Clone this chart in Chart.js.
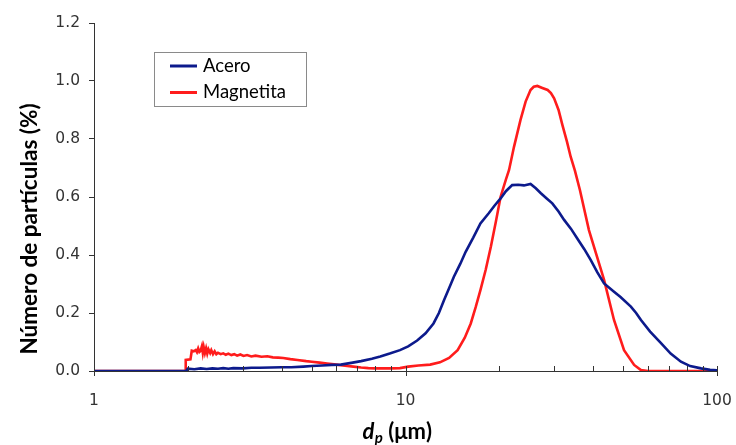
<!DOCTYPE html>
<html><head><meta charset="utf-8">
<script src="https://cdn.jsdelivr.net/npm/chart.js@4.4.0/dist/chart.umd.min.js"></script>
<style>html,body{margin:0;padding:0;background:#fff;}#c{display:block;}</style>
</head><body>
<canvas id="c" width="736" height="445"></canvas>
<script>
// ---- data ----
const seriesNames = ['Acero', 'Magnetita'];
const aceroX = [1, 1.98, 2.0, 2.1, 2.2, 2.3, 2.4, 2.5, 2.6, 2.7, 2.8, 3.0, 3.2, 3.4, 3.7, 4.0, 4.3, 4.7, 5.0, 5.4, 5.8, 6.2, 6.7, 7.2, 7.8, 8.3, 8.9, 9.6, 10.2, 10.9, 11.6, 12.3, 12.8, 13.3, 13.8, 14.3, 15.0, 15.6, 16.5, 17.4, 18.5, 19.3, 20.2, 21.0, 22.0, 23.0, 24.0, 25.2, 26.2, 27.2, 28.4, 29.6, 31.0, 32.3, 34.0, 35.6, 37.5, 39.3, 41.3, 43.4, 46.5, 49.0, 52.9, 55.0, 57.0, 61.0, 66.1, 71.0, 76.6, 82.0, 88.9, 95.0, 100];
const aceroY = [0, 0, 0.008, 0.006, 0.009, 0.007, 0.009, 0.008, 0.010, 0.008, 0.010, 0.009, 0.011, 0.011, 0.012, 0.013, 0.013, 0.015, 0.017, 0.019, 0.021, 0.022, 0.028, 0.034, 0.042, 0.050, 0.060, 0.072, 0.085, 0.105, 0.130, 0.164, 0.200, 0.245, 0.285, 0.325, 0.370, 0.411, 0.460, 0.509, 0.544, 0.570, 0.595, 0.620, 0.641, 0.642, 0.640, 0.645, 0.630, 0.613, 0.595, 0.578, 0.550, 0.521, 0.490, 0.457, 0.420, 0.383, 0.340, 0.302, 0.275, 0.255, 0.222, 0.200, 0.176, 0.136, 0.096, 0.060, 0.032, 0.017, 0.009, 0.004, 0.002];
const magX = [1, 1.96, 1.97, 2.04, 2.06, 2.09, 2.12, 2.14, 2.16, 2.18, 2.2, 2.22, 2.235, 2.25, 2.27, 2.29, 2.31, 2.33, 2.36, 2.38, 2.41, 2.44, 2.47, 2.5, 2.55, 2.6, 2.65, 2.7, 2.76, 2.82, 2.88, 2.95, 3.02, 3.1, 3.2, 3.3, 3.45, 3.6, 3.75, 3.9, 4.05, 4.27, 4.5, 4.8, 5.0, 5.3, 5.6, 6.0, 6.4, 6.8, 7.2, 7.6, 8.0, 8.5, 9.0, 9.6, 10.2, 11.0, 12.0, 12.9, 13.8, 14.7, 15.5, 16.2, 16.8, 17.4, 18.1, 18.8, 19.5, 20.2, 21.0, 21.5, 22.3, 23.4, 24.3, 25.2, 25.8, 26.5, 27.5, 28.6, 29.3, 30.0, 31.0, 31.9, 33.0, 33.9, 35.0, 36.3, 38.8, 43.4, 46.7, 50.3, 54.2, 57.0, 60.0, 100];
const magY = [0, 0, 0.038, 0.040, 0.070, 0.068, 0.072, 0.065, 0.078, 0.066, 0.070, 0.085, 0.063, 0.082, 0.062, 0.078, 0.060, 0.075, 0.062, 0.072, 0.058, 0.068, 0.058, 0.063, 0.058, 0.061, 0.056, 0.060, 0.055, 0.058, 0.053, 0.057, 0.052, 0.055, 0.050, 0.053, 0.049, 0.051, 0.047, 0.046, 0.045, 0.041, 0.038, 0.034, 0.032, 0.029, 0.026, 0.022, 0.018, 0.015, 0.012, 0.010, 0.009, 0.009, 0.009, 0.010, 0.015, 0.019, 0.022, 0.030, 0.045, 0.072, 0.115, 0.164, 0.220, 0.279, 0.350, 0.429, 0.515, 0.601, 0.660, 0.693, 0.773, 0.866, 0.929, 0.969, 0.980, 0.983, 0.976, 0.969, 0.958, 0.940, 0.900, 0.848, 0.790, 0.739, 0.690, 0.624, 0.486, 0.314, 0.176, 0.072, 0.021, 0.003, 0, 0];
const xTickValues = [1, 2, 3, 4, 5, 6, 7, 8, 9, 10, 20, 30, 40, 50, 60, 70, 80, 90, 100];
const xLabelValues = [1, 10, 100];
const yTickValues = [0, 0.2, 0.4, 0.6, 0.8, 1.0, 1.2];
const yTitle = 'Número de partículas (%)';
const colors = ['#0c1a8c', '#ff1c1c'];

const toPts = (xs, ys) => xs.map((x, i) => ({x: x, y: ys[i]}));

const PLOT = {left: 94, top: 23, right: 717, bottom: 371};

const decor = {
  id: 'decor',
  afterDraw(chart) {
    const ctx = chart.ctx, xs = chart.scales.x, ca = chart.chartArea;
    ctx.save();
    // x tick marks
    ctx.strokeStyle = '#333'; ctx.lineWidth = 1;
    ctx.beginPath();
    xTickValues.forEach(v => {
      const px = Math.round(xs.getPixelForValue(v)) + 0.5;
      const major = xLabelValues.includes(v);
      ctx.moveTo(px, ca.bottom - 5);
      ctx.lineTo(px, major ? ca.bottom + 5 : ca.bottom);
    });
    ctx.stroke();
    // legend
    const bx = 154.5, by = 52.5, bw = 152, bh = 54;
    ctx.fillStyle = '#fff'; ctx.fillRect(bx, by, bw, bh);
    ctx.strokeStyle = '#8a8a8a'; ctx.lineWidth = 1; ctx.strokeRect(bx, by, bw, bh);
    chart.data.datasets.forEach((ds, i) => {
      const ly = 66 + i * 26.5;
      ctx.strokeStyle = ds.borderColor; ctx.lineWidth = 3;
      ctx.beginPath(); ctx.moveTo(170, ly); ctx.lineTo(197, ly); ctx.stroke();
      ctx.fillStyle = '#000'; ctx.font = '18.5px Lato';
      ctx.textBaseline = 'middle'; ctx.textAlign = 'left';
      ctx.fillText(ds.label, 203, ly);
    });
    // y title
    ctx.save();
    ctx.translate(30, 229); ctx.rotate(-Math.PI / 2);
    ctx.font = 'bold 22.5px Lato'; ctx.fillStyle = '#000';
    ctx.textAlign = 'center'; ctx.textBaseline = 'middle';
    ctx.fillText(yTitle, 0, 0);
    ctx.restore();
    // x title: d_p (μm)
    const f1 = 'italic bold 22px Lato', f2 = 'italic bold 15px Lato', f3 = 'bold 22px Lato';
    const p1 = 'd', p2 = 'p', p3 = ' (μm)';
    ctx.font = f1; const w1 = ctx.measureText(p1).width;
    ctx.font = f2; const w2 = ctx.measureText(p2).width;
    ctx.font = f3; const w3 = ctx.measureText(p3).width;
    let x0 = 397 - (w1 + w2 + w3) / 2; const yb = 439;
    ctx.fillStyle = '#000'; ctx.textAlign = 'left'; ctx.textBaseline = 'alphabetic';
    ctx.font = f1; ctx.fillText(p1, x0, yb); x0 += w1 + 0.5;
    ctx.font = f2; ctx.fillText(p2, x0, yb + 4); x0 += w2;
    ctx.font = f3; ctx.fillText(p3, x0, yb);
    ctx.restore();
  }
};

new Chart(document.getElementById('c'), {
  type: 'line',
  data: {
    datasets: [
      {label: seriesNames[0], data: toPts(aceroX, aceroY), borderColor: colors[0], borderWidth: 2.6, pointRadius: 0, tension: 0, fill: false},
      {label: seriesNames[1], data: toPts(magX, magY), borderColor: colors[1], borderWidth: 2.6, pointRadius: 0, tension: 0, fill: false}
    ]
  },
  options: {
    responsive: false, animation: false, devicePixelRatio: 1,
    layout: {padding: {left: 0, top: PLOT.top, right: 736 - PLOT.right, bottom: 0}},
    plugins: {legend: {display: false}, tooltip: {enabled: false}},
    scales: {
      x: {
        type: 'logarithmic', min: 1, max: 100,
        afterBuildTicks: s => { s.ticks = xTickValues.map(v => ({value: v})); },
        afterFit: s => { s.height = 445 - PLOT.bottom; s.paddingLeft = 0; s.paddingRight = 0; },
        grid: {display: false},
        border: {display: true, color: '#333', width: 1},
        ticks: {autoSkip: false, maxRotation: 0, padding: 13, color: '#333', font: {family: 'DejaVu Sans', size: 15.5},
          callback: v => xLabelValues.includes(v) ? String(v) : ''}
      },
      y: {
        min: 0, max: 1.2,
        afterBuildTicks: s => { s.ticks = yTickValues.map(v => ({value: v})); },
        afterFit: s => { s.width = PLOT.left; s.paddingTop = 0; s.paddingBottom = 0; },
        grid: {drawOnChartArea: false, drawTicks: true, tickLength: 5, color: '#333'},
        border: {display: true, color: '#333', width: 1},
        ticks: {padding: 9, color: '#333', font: {family: 'DejaVu Sans', size: 15.5}, callback: v => Number(v).toFixed(1)}
      }
    }
  },
  plugins: [decor]
});
</script>
</body></html>
